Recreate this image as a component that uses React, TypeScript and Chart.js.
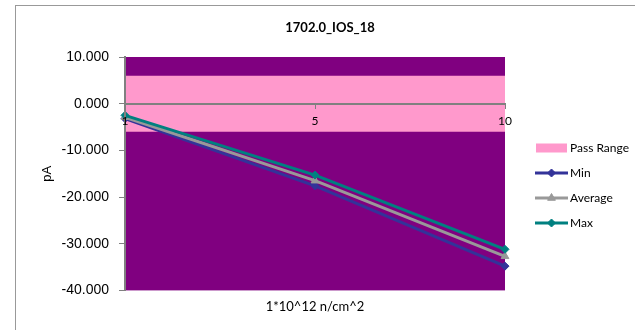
import { useEffect, useRef } from 'react';
import { Chart, registerables } from 'chart.js';
import { drawPoint } from 'chart.js/helpers';

Chart.register(...registerables);

const TITLE = '1702.0_IOS_18';
const X_TITLE = '1*10^12 n/cm^2';
const Y_TITLE = 'pA';
const categories = ['1', '5', '10'];
const minValues = [-3.2, -17.6, -34.8];
const avgValues = [-2.9, -16.5, -32.7];
const maxValues = [-2.5, -15.3, -31.2];
const passUpper = [6, 6, 6];
const passLower = -6;
const yMin = -40;
const yMax = 10;
const yStep = 10;
const seriesNames = ['Pass Range', 'Min', 'Average', 'Max'];

const bgPlugin = {
  id: 'plotBg',
  beforeDraw(chart: any) {
    const { ctx, chartArea: a } = chart;
    ctx.save();
    ctx.fillStyle = '#800080';
    ctx.fillRect(a.left, a.top, a.right - a.left, a.bottom - a.top);
    ctx.restore();
  },
};

const titlePlugin = {
  id: 'excelTitle',
  afterDraw(chart: any) {
    const ctx = chart.ctx;
    ctx.save();
    ctx.font = 'bold 13px Lato';
    ctx.fillStyle = '#000';
    ctx.textAlign = 'center';
    ctx.textBaseline = 'middle';
    ctx.fillText(TITLE, 330, 28);
    ctx.restore();
  },
};

const legendPlugin = {
  id: 'excelLegend',
  afterDraw(chart: any) {
    const ctx = chart.ctx;
    const x0 = chart.chartArea.right + 30;
    let y = 148;
    chart.data.datasets.forEach((ds: any) => {
      ctx.save();
      if (ds.isBand) {
        ctx.fillStyle = ds.backgroundColor;
        ctx.fillRect(x0 + 1, y - 4.5, 31, 9);
      } else {
        ctx.strokeStyle = ds.borderColor;
        ctx.lineWidth = 3;
        ctx.beginPath();
        ctx.moveTo(x0, y);
        ctx.lineTo(x0 + 33, y);
        ctx.stroke();
        ctx.fillStyle = ds.pointBackgroundColor;
        ctx.strokeStyle = ds.pointBorderColor;
        ctx.lineWidth = 1;
        drawPoint(ctx, { pointStyle: ds.pointStyle, radius: ds.pointRadius, rotation: 0, borderWidth: 1 }, x0 + 16.5, y);
      }
      ctx.fillStyle = '#000';
      ctx.font = '12px Lato';
      ctx.textAlign = 'left';
      ctx.textBaseline = 'middle';
      ctx.fillText(ds.label, x0 + 35, y);
      ctx.restore();
      y += 25;
    });
  },
};

export default function App() {
  const ref = useRef<HTMLCanvasElement>(null);

  useEffect(() => {
    if (!ref.current) return;
    const lineDs = (label: string, data: number[], color: string, style: string, radius: number, order: number) => ({
      label,
      data,
      borderColor: color,
      backgroundColor: color,
      pointBackgroundColor: color,
      pointBorderColor: color,
      pointStyle: style,
      pointRadius: radius,
      pointBorderWidth: 1,
      borderWidth: 3,
      tension: 0,
      fill: false,
      clip: false as any,
      order,
      xAxisID: 'x',
      yAxisID: 'y',
    });
    const chart = new Chart(ref.current, {
      type: 'line',
      data: {
        labels: categories,
        datasets: [
          {
            label: seriesNames[0],
            data: passUpper,
            fill: { value: passLower },
            backgroundColor: '#FF99CC',
            borderColor: 'rgba(0,0,0,0)',
            borderWidth: 0,
            pointRadius: 0,
            order: 4,
            xAxisID: 'x',
            yAxisID: 'y',
            isBand: true,
          } as any,
          lineDs(seriesNames[1], minValues, '#333399', 'rectRot', 4, 3),
          lineDs(seriesNames[2], avgValues, '#999999', 'triangle', 4.5, 2),
          lineDs(seriesNames[3], maxValues, '#008080', 'rectRot', 4, 1),
        ],
      },
      options: {
        animation: false,
        responsive: false,
        events: [],
        layout: { padding: { left: 0, right: 130, top: 57, bottom: 14 } },
        plugins: {
          legend: { display: false },
          tooltip: { enabled: false },
          title: { display: false },
        },
        scales: {
          x: {
            type: 'category',
            labels: categories,
            offset: false,
            position: { y: 0 } as any,
            grid: { display: true, drawOnChartArea: false, drawTicks: true, tickLength: 4, color: '#808080', z: 1 },
            border: { display: true, color: '#808080', width: 2, z: 1 },
            ticks: { font: { family: 'Lato', size: 12 }, color: '#000', padding: 6, maxRotation: 0, autoSkip: false, z: 2 },
          },
          x2: {
            type: 'category',
            labels: categories,
            position: 'bottom',
            offset: false,
            grid: { display: false, drawTicks: false, tickLength: 0 },
            border: { display: false },
            ticks: { display: false },
            title: {
              display: true,
              text: X_TITLE,
              font: { family: 'Lato', size: 13 },
              color: '#000',
              padding: { top: 9, bottom: 1 },
            },
          },
          y: {
            min: yMin,
            max: yMax,
            ticks: {
              stepSize: yStep,
              callback: (v: any) => Number(v).toFixed(3),
              font: { family: 'Liberation Sans', size: 14 },
              color: '#000',
              padding: 10,
            },
            grid: { display: true, drawOnChartArea: false, drawTicks: true, tickLength: 6, color: '#808080' },
            border: { display: true, color: '#808080', width: 2, z: 1 },
            title: {
              display: true,
              text: Y_TITLE,
              font: { family: 'Liberation Sans', size: 13 },
              color: '#000',
              padding: { top: 40, bottom: 0 },
            },
            afterFit: (s: any) => {
              s.width = 125;
            },
          },
        },
      },
      plugins: [bgPlugin, titlePlugin, legendPlugin],
    });
    return () => chart.destroy();
  }, []);

  return (
    <div style={{ position: 'absolute', left: 0, top: 0, width: 635, height: 330, background: '#fff' }}>
      <div
        style={{
          position: 'absolute',
          left: 15,
          top: 5,
          width: 640,
          height: 340,
          borderTop: '1px solid #999',
          borderLeft: '1px solid #999',
        }}
      />
      <canvas ref={ref} width={635} height={330} style={{ position: 'absolute', left: 0, top: 0 }} />
    </div>
  );
}
